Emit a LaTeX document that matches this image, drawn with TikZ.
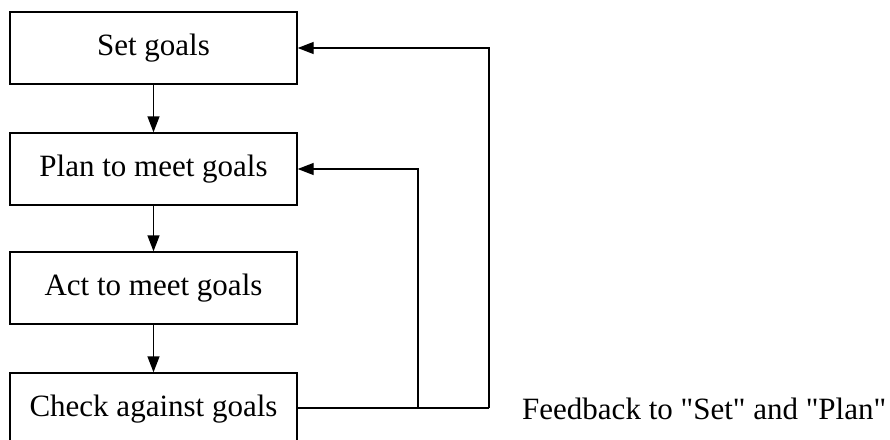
\documentclass[tikz,border=0pt]{standalone}
\usepackage{fontspec}
\setmainfont{Liberation Serif}
\usetikzlibrary{arrows.meta}
\begin{document}
\begin{tikzpicture}[x=1pt,y=-1pt,
  stagebox/.style={draw, line width=1.4pt, minimum width=287pt, minimum height=72pt,
    inner sep=0pt, font=\fontsize{31}{37}\selectfont},
  flow/.style={line width=1.4pt, -{Triangle[length=16pt,width=12pt]}},
  fb/.style={line width=1.4pt}]
\useasboundingbox (0,0) rectangle (890,439);
\node[stagebox] (set)   at (153.5,48)  {Set goals};
\node[stagebox] (plan)  at (153.5,169) {Plan to meet goals};
\node[stagebox] (act)   at (153.5,288) {Act to meet goals};
\node[stagebox] (check) at (153.5,409) {Check against goals};
\draw[flow] (set) -- (plan);
\draw[flow] (plan) -- (act);
\draw[flow] (act) -- (check);
% feedback loop from the check stage
\coordinate (split) at (418,408);
\coordinate (outer) at (489,408);
\draw[fb] (check.east |- split) -- (outer);
\draw[flow] (outer) |- (set.east);
\draw[flow] (split) |- (plan.east);
\node[anchor=west, inner sep=0pt, font=\fontsize{31}{37}\selectfont] (label) at (522,409)
  {Feedback to \textquotedbl Set\textquotedbl{} and \textquotedbl Plan\textquotedbl};
\end{tikzpicture}
\end{document}
